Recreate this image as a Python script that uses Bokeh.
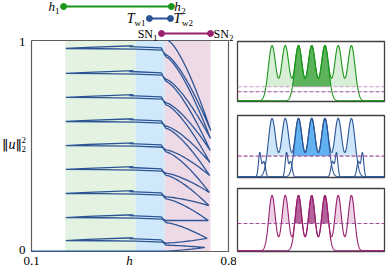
import numpy as np
from bokeh.plotting import figure
from bokeh.layouts import row, column
from bokeh.models import Range1d
from bokeh.core.properties import value
from bokeh.embed import file_html
from bokeh.resources import INLINE

SERIF = value("Liberation Serif")
BARS = value("DejaVu Sans")

# ---------------- data: bifurcation diagram ----------------
h_ticks = [0.1, 0.8]
h_tick_labels = ["0.1", "0.8"]
norm_ticks = [0.0, 1.0]
norm_tick_labels = ["0", "1"]

band_edges = [0.220, 0.470, 0.573, 0.736]
band_colors = ["#e4f2e1", "#d0e9fa", "#eed9e7"]

h_pair = [0.214, 0.597]      # h1, h2
tw_pair = [0.519, 0.594]     # Tw1, Tw2
sn_pair = [0.562, 0.736]     # SN1, SN2

levels = [0.052, 0.161, 0.275, 0.389, 0.502, 0.616, 0.730, 0.844, 0.962]
tip_x = [0.716, 0.724, 0.728, 0.730, 0.732, 0.733, 0.734, 0.735, 0.736, 0.737]
tip_y = [0.019, 0.062, 0.147, 0.218, 0.280, 0.360, 0.422, 0.479, 0.536, 0.573]
drop_out = [0.012, 0.014, 0.016, 0.018, 0.020, 0.022, 0.025, 0.028, 0.030]
drop_in = [0.022, 0.024, 0.026, 0.028, 0.030, 0.032, 0.035, 0.038, 0.040]
zero_level = 0.002
top_exit = (0.585, 1.0)
fold_h = 0.222
cusp_h = 0.462
step_h = 0.565
arm_h = 0.578

# ---------------- data: profile panels ----------------
peak_pos = [-0.53, -0.35, -0.17, 0.01, 0.19, 0.37, 0.55]
inner_idx = [2, 3, 4]
p1_peak, p1_width, p1_dash = 0.93, 0.0715, [0.238, 0.155]
p2_peak, p2_width, p2_dash = 0.95, 0.072, 0.339
p3_peak, p3_width, p3_dash = 0.889, 0.0627, 0.44
p2_bump_pos = [-0.697, -0.333, 0.347, 0.700]
p2_bump_dir = [1, 1, -1, -1]
p2_bump_height = 0.39
p2_shoulder_height = 0.25
p2_shoulder_shift = 0.055

GREEN, GREEN_L, GREEN_D = "#1a961a", "#d9eed6", "#5cb35c"
BLUE, BLUE_L, BLUE_D = "#2c5595", "#cde6fa", "#62b1f0"
PURP, PURP_L, PURP_D = "#98206f", "#ecd2e4", "#b4649a"
DASH_A, DASH_B = "#c99cc5", "#a0509a"

# ---------------- main figure ----------------
W, H = 236, 267
px_per_h = 197 / 0.7
px_per_n = 211.0
xr = Range1d(0.1 - 31 / px_per_h, 0.1 + (W - 31) / px_per_h)
yr = Range1d(-(H - 251) / px_per_n, 1 + 40 / px_per_n)

p = figure(width=W, height=H, x_range=xr, y_range=yr, output_backend="svg",
           toolbar_location=None, x_axis_location=None, y_axis_location=None,
           min_border=0, min_border_left=0, min_border_right=0,
           min_border_top=0, min_border_bottom=0, outline_line_color=None)
p.grid.visible = False
p.background_fill_color = "white"

for i, c in enumerate(band_colors):
    p.quad(left=[band_edges[i]], right=[band_edges[i + 1]], bottom=[0], top=[1],
           fill_color=c, line_color=None)
p.quad(left=[h_ticks[0]], right=[h_ticks[1]], bottom=[norm_ticks[0]], top=[norm_ticks[1]],
       fill_color=None, line_color="#5e5e5e", line_width=1.2)


def arm(p0, p1, n=26, power=1.4):
    s = np.linspace(0, 1, n)
    x = p0[0] + (p1[0] - p0[0]) * s
    y = p0[1] + (p1[1] - p0[1]) * s ** power
    return list(x), list(y)


xs, ys = [], []


def add(px, py):
    xs.extend(px)
    ys.extend(py)


add([h_ticks[0], 0.50], [zero_level, zero_level])
ax, ay = arm((arm_h, zero_level), (tip_x[0], tip_y[0]))
add(ax, ay)
for k, L in enumerate(levels):
    ax, ay = arm((arm_h, L - drop_in[k]), (tip_x[k], tip_y[k]))
    add(ax[::-1], ay[::-1])
    add([step_h + 0.006, step_h, 0.47, 0.35, fold_h],
        [L - drop_in[k] * 0.6, L - 0.008, L - 0.003, L - 0.001, L])
    add([0.30, 0.44, cusp_h, 0.447, 0.472, step_h - 0.004, step_h + 0.004],
        [L + 0.005, L + 0.012, L + 0.013, L + 0.009, L + 0.008, L + 0.003, L - drop_out[k] * 0.6])
    ax, ay = arm((arm_h, L - drop_out[k]), (tip_x[k + 1], tip_y[k + 1]))
    add(ax, ay)
ax, ay = arm(top_exit, (tip_x[9], tip_y[9]))
add(ax[::-1], ay[::-1])

p.line(xs, ys, line_color=BLUE, line_width=1.3)

# tick labels
lab_y = -9 / px_per_n
p.text(x=h_ticks, y=[lab_y, lab_y], text=h_tick_labels, text_font=SERIF,
       text_font_size="13px", text_align="center", text_baseline="middle", text_color="black")
p.text(x=[0.448], y=[lab_y], text=["h"], text_font=SERIF, text_font_style="italic",
       text_font_size="13px", text_align="center", text_baseline="middle", text_color="black")
lx = 0.1 - 6 / px_per_h
p.text(x=[lx, lx], y=[0.007, 0.995], text=norm_tick_labels, text_font=SERIF,
       text_font_size="13px", text_align="right", text_baseline="middle", text_color="black")
# y label ||u||_2^2
ux = 0.1 - 19.5 / px_per_h
uy = 0.507
p.text(x=[ux], y=[uy], text=["u"], text_font=SERIF, text_font_style="italic",
       text_font_size="14px", text_align="center", text_baseline="middle", text_color="black")
p.text(x=[ux], y=[uy], text=["\u2016"], x_offset=-3.5, text_font=BARS,
       text_font_size="13px", text_align="right", text_baseline="middle", text_color="black")
p.text(x=[ux], y=[uy], text=["\u2016"], x_offset=3.5, text_font=BARS,
       text_font_size="13px", text_align="left", text_baseline="middle", text_color="black")
sx2 = 0.1 - 10 / px_per_h
p.text(x=[sx2, sx2], y=[0.528, 0.486], text=["2", "2"], text_font=SERIF,
       text_font_size="9px", text_align="left", text_baseline="middle", text_color="black")

# indicator rows
rows = [
    (h_pair, 1 + 34 / px_per_n, GREEN, ("h", "1"), ("h", "2"), "13px", True, 7.0),
    (tw_pair, 1 + 22 / px_per_n, BLUE, ("T", "w1"), ("T", "w2"), "14px", True, 8.5),
    (sn_pair, 1 + 7 / px_per_n, PURP, ("SN", "1"), ("SN", "2"), "12px", False, 15.5),
]
sub_w = {"1": 4.5, "2": 4.5, "w1": 11.0, "w2": 11.0}
for pair, yv, col, left_lab, right_lab, fs, ital, mw in rows:
    p.line(pair, [yv, yv], line_color=col, line_width=1.8)
    p.scatter(pair, [yv, yv], size=6, fill_color=col, line_color=col)
    style = "italic" if ital else "normal"
    sw = sub_w[left_lab[1]]
    p.text(x=[pair[0]], y=[yv], text=[left_lab[0]], x_offset=-4 - sw, text_font=SERIF,
           text_font_style=style, text_font_size=fs, text_align="right",
           text_baseline="middle", text_color="black")
    p.text(x=[pair[0]], y=[yv - 0.022], text=[left_lab[1]], x_offset=-4, text_font=SERIF,
           text_font_size="9px", text_align="right", text_baseline="middle", text_color="black")
    p.text(x=[pair[1]], y=[yv], text=[right_lab[0]], x_offset=3, text_font=SERIF,
           text_font_style=style, text_font_size=fs, text_align="left",
           text_baseline="middle", text_color="black")
    p.text(x=[pair[1]], y=[yv - 0.022], text=[right_lab[1]], x_offset=3 + mw, text_font=SERIF,
           text_font_size="9px", text_align="left", text_baseline="middle", text_color="black")

# ---------------- panels ----------------
xg = np.linspace(-1, 1, 600)


def profile(centers, amp, w):
    u = np.zeros_like(xg)
    for c in centers:
        u += amp * np.exp(-((xg - c) / w) ** 2)
    return u


def panel(top, bottom, height):
    f = figure(width=150, height=height, x_range=Range1d(-1, 1), y_range=Range1d(-0.01, 1.0),
               output_backend="svg", toolbar_location=None, x_axis_location=None,
               y_axis_location=None, min_border_left=1, min_border_right=2,
               min_border_top=top, min_border_bottom=bottom,
               outline_line_color="#404040", outline_line_width=1.3)
    f.grid.visible = False
    return f


def draw_profile(f, amp, w, level, line_col, light, dark):
    outer = profile(peak_pos, amp, w)
    inner = profile([peak_pos[i] for i in inner_idx], amp, w)
    f.varea(x=xg, y1=np.full_like(xg, level), y2=np.maximum(outer, level), fill_color=light)
    f.varea(x=xg, y1=np.full_like(xg, level), y2=np.maximum(inner, level), fill_color=dark)
    f.line(xg, outer, line_color=line_col, line_width=1.1)
    f.line(xg, inner, line_color=line_col, line_width=1.1)


p1 = panel(41, 7, 108)
draw_profile(p1, p1_peak, p1_width, p1_dash[0], GREEN, GREEN_L, GREEN_D)
p1.line([-1, 1], [p1_dash[0]] * 2, line_color=DASH_A, line_width=1.1, line_dash="4 2")
p1.line([-1, 1], [p1_dash[1]] * 2, line_color=DASH_B, line_width=1.1, line_dash="4 2")

p2 = panel(7, 5, 74)
draw_profile(p2, p2_peak, p2_width, p2_dash, BLUE, BLUE_L, BLUE_D)
bump = np.zeros_like(xg)
for c, d in zip(p2_bump_pos, p2_bump_dir):
    bump += p2_bump_height * np.exp(-((xg - c) / 0.025) ** 2)
    bump += p2_shoulder_height * np.exp(-((xg - c - d * p2_shoulder_shift) / 0.03) ** 2)
p2.line(xg, bump, line_color=BLUE, line_width=1.1)
p2.line([-1, 1], [p2_dash] * 2, line_color=DASH_B, line_width=1.1, line_dash="4 2")

p3 = panel(6, 16, 85)
draw_profile(p3, p3_peak, p3_width, p3_dash, PURP, PURP_L, PURP_D)
p3.line([-1, 1], [p3_dash] * 2, line_color=DASH_B, line_width=1.1, line_dash="4 2")

layout = row(p, column(p1, p2, p3))
open("out.html", "w").write(file_html(layout, INLINE))
